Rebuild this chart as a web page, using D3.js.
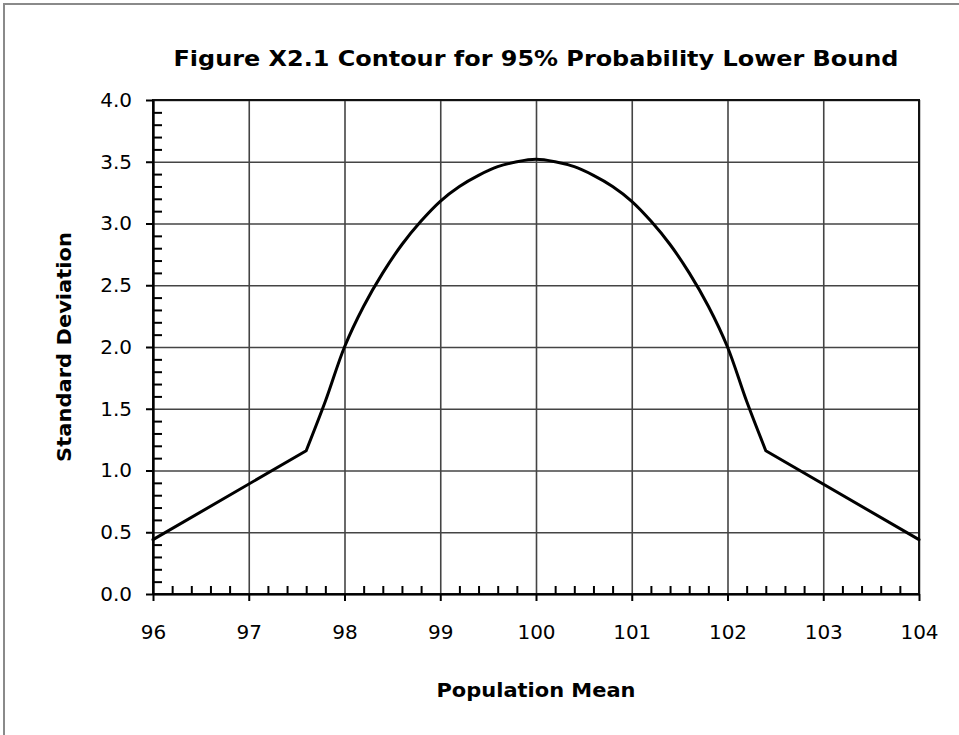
<!DOCTYPE html>
<html><head><meta charset="utf-8">
<script src="https://cdn.jsdelivr.net/npm/d3@7"></script>
<style>
html,body{margin:0;padding:0;background:#fff;}
svg{display:block;}
text{font-family:Tahoma,"DejaVu Sans",Verdana,sans-serif;fill:#000;}
</style></head>
<body>
<script>
const title = "Figure X2.1 Contour for 95% Probability Lower Bound";
const xLabel = "Population Mean";
const yLabel = "Standard Deviation";
const xTicks = [96, 97, 98, 99, 100, 101, 102, 103, 104];
const yTicks = [0.0, 0.5, 1.0, 1.5, 2.0, 2.5, 3.0, 3.5, 4.0];
// left linear segment, central smooth segment, right linear segment
const leftMean = [96.0, 97.6];
const leftSd = [0.44, 1.16];
const midMean = [97.6, 97.8, 98.0, 98.2, 98.4, 98.6, 98.8, 99.0, 99.2, 99.4, 99.6, 99.8, 100.0,
  100.2, 100.4, 100.6, 100.8, 101.0, 101.2, 101.4, 101.6, 101.8, 102.0, 102.2, 102.4];
const midSd = [1.16, 1.56, 2.00, 2.33, 2.60, 2.83, 3.02, 3.18, 3.30, 3.39, 3.46, 3.50, 3.52,
  3.50, 3.46, 3.39, 3.30, 3.18, 3.02, 2.83, 2.60, 2.33, 2.00, 1.56, 1.16];
const rightMean = [102.4, 104.0];
const rightSd = [1.16, 0.44];

const W = 959, H = 735;
const L = 153, R = 919, T = 100, B = 594;

const svg = d3.select("body").append("svg").attr("width", W).attr("height", H);

// outer frame
svg.append("rect").attr("x", 4).attr("y", 4).attr("width", 1000).attr("height", 1000)
  .attr("fill", "none").attr("stroke", "#8a8a8a").attr("stroke-width", 2);

const x = d3.scaleLinear().domain([96, 104]).range([L, R]);
const y = d3.scaleLinear().domain([0, 4]).range([B, T]);

// gridlines
const gx = svg.append("g").attr("transform", `translate(0,${B})`)
  .call(d3.axisBottom(x).tickValues(xTicks).tickSize(-(B - T)).tickFormat(""));
gx.select(".domain").remove();
gx.selectAll("line").attr("stroke", "#444").attr("stroke-width", 1.6);
const gy = svg.append("g").attr("transform", `translate(${L},0)`)
  .call(d3.axisLeft(y).tickValues(yTicks).tickSize(-(R - L)).tickFormat(""));
gy.select(".domain").remove();
gy.selectAll("line").attr("stroke", "#444").attr("stroke-width", 1.6);

// plot border
svg.append("rect").attr("x", L).attr("y", T).attr("width", R - L).attr("height", B - T)
  .attr("fill", "none").attr("stroke", "#111").attr("stroke-width", 2);

// minor ticks (inside)
const xMinor = d3.range(96, 104.001, 0.2).filter(v => Math.abs(v - Math.round(v)) > 1e-6);
const yMinor = d3.range(0, 4.001, 0.1).filter(v => Math.abs(v * 2 - Math.round(v * 2)) > 1e-6);
const mx = svg.append("g").attr("transform", `translate(0,${B})`)
  .call(d3.axisBottom(x).tickValues(xMinor).tickSize(-8).tickFormat(""));
mx.select(".domain").remove();
mx.selectAll("line").attr("stroke", "#000").attr("stroke-width", 2);
const my = svg.append("g").attr("transform", `translate(${L},0)`)
  .call(d3.axisLeft(y).tickValues(yMinor).tickSize(-9).tickFormat(""));
my.select(".domain").remove();
my.selectAll("line").attr("stroke", "#000").attr("stroke-width", 2);

// major axes
const ax = svg.append("g").attr("transform", `translate(0,${B})`)
  .call(d3.axisBottom(x).tickValues(xTicks).tickSize(7).tickPadding(24).tickFormat(d3.format("d")).tickSizeOuter(0));
ax.select(".domain").attr("stroke", "#000").attr("stroke-width", 2.2);
ax.selectAll("line").attr("stroke", "#000").attr("stroke-width", 2);
ax.selectAll("text").style("font-size", "20px").attr("fill", "#000");

const ay = svg.append("g").attr("transform", `translate(${L},0)`)
  .call(d3.axisLeft(y).tickValues(yTicks).tickSize(7).tickPadding(14).tickFormat(d3.format(".1f")).tickSizeOuter(0));
ay.select(".domain").attr("stroke", "#000").attr("stroke-width", 2.2);
ay.selectAll("line").attr("stroke", "#000").attr("stroke-width", 2);
ay.selectAll("text").style("font-size", "20px").attr("fill", "#000");

// curve
const toPts = (ms, ss) => ms.map((m, i) => [m, ss[i]]);
const leftPts = toPts(leftMean, leftSd);
const midPts = toPts(midMean, midSd);
const rightPts = toPts(rightMean, rightSd);
const lin = d3.line().x(d => x(d[0])).y(d => y(d[1]));
const smooth = d3.line().x(d => x(d[0])).y(d => y(d[1])).curve(d3.curveCatmullRom.alpha(0.5));
const pathD = lin(leftPts) + smooth(midPts).replace(/^M[^A-Za-z]*/, "L" + x(midPts[0][0]) + "," + y(midPts[0][1])) +
  lin(rightPts).replace(/^M/, "L");
svg.append("path")
  .attr("fill", "none").attr("stroke", "#000").attr("stroke-width", 3)
  .attr("stroke-linejoin", "round").attr("stroke-linecap", "round")
  .attr("d", pathD);

// titles
svg.append("text").attr("x", (L + R) / 2).attr("y", 66).attr("text-anchor", "middle")
  .style("font-size", "21px").style("font-weight", "bold")
  .attr("textLength", 725).attr("lengthAdjust", "spacingAndGlyphs").text(title);
svg.append("text").attr("x", 536).attr("y", 697).attr("text-anchor", "middle")
  .style("font-size", "20px").style("font-weight", "bold")
  .attr("textLength", 199).attr("lengthAdjust", "spacingAndGlyphs").text(xLabel);
svg.append("text").attr("transform", "translate(71,347) rotate(-90)").attr("text-anchor", "middle")
  .style("font-size", "20px").style("font-weight", "bold")
  .attr("textLength", 230).attr("lengthAdjust", "spacingAndGlyphs").text(yLabel);
</script>
</body></html>
